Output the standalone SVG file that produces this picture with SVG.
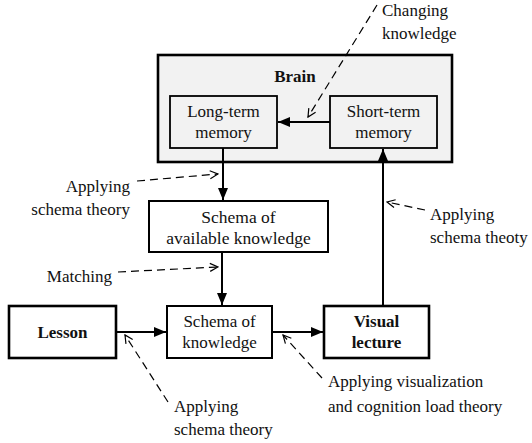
<svg xmlns="http://www.w3.org/2000/svg" width="532" height="443" viewBox="0 0 532 443">
  <defs>
    <marker id="solid" viewBox="0 0 12 10" refX="12" refY="5" markerWidth="12" markerHeight="10" markerUnits="userSpaceOnUse" orient="auto">
      <path d="M0,0 L12,5 L0,10 Z" fill="#000"/>
    </marker>
    <marker id="open" viewBox="0 0 10 10" refX="9" refY="5" markerWidth="10" markerHeight="10" markerUnits="userSpaceOnUse" orient="auto">
      <path d="M1,1 L9,5 L1,9" fill="none" stroke="#000" stroke-width="1.2"/>
    </marker>
  </defs>
  <style>
    .b { font-weight: bold; }
    .m { text-anchor: middle; }
    .e { text-anchor: end; }
    .inner { fill: #f2f2f2; stroke: #000; stroke-width: 1.8; }
    .thick { fill: #fff; stroke: #000; stroke-width: 2.6; }
    .thin { fill: #fff; stroke: #000; stroke-width: 2; }
    .flow { fill: none; stroke: #000; stroke-width: 2; marker-end: url(#solid); }
    .note { fill: none; stroke: #000; stroke-width: 1.2; stroke-dasharray: 8 5; marker-end: url(#open); }
  </style>

  <rect width="532" height="443" fill="#fff"/>

  <g id="brain">
    <rect x="158" y="55" width="294" height="107" fill="#f2f2f2" stroke="#000" stroke-width="2.6"/>
    <text class="b m" x="295" y="82" font-family="'Liberation Serif', serif" font-size="17" fill="#111">Brain</text>
  </g>

  <g id="long-term-memory">
    <rect class="inner" x="170" y="96" width="107" height="52"/>
    <text class="m" x="223.5" y="117" font-family="'Liberation Serif', serif" font-size="17" fill="#111">Long-term</text>
    <text class="m" x="223.5" y="138" font-family="'Liberation Serif', serif" font-size="17" fill="#111">memory</text>
  </g>

  <g id="short-term-memory">
    <rect class="inner" x="330" y="96" width="107" height="52"/>
    <text class="m" x="383.5" y="117" font-family="'Liberation Serif', serif" font-size="17" fill="#111">Short-term</text>
    <text class="m" x="383.5" y="138" font-family="'Liberation Serif', serif" font-size="17" fill="#111">memory</text>
  </g>

  <g id="schema-available">
    <rect class="thin" x="149" y="201" width="179" height="51"/>
    <text class="m" x="238.5" y="223" font-family="'Liberation Serif', serif" font-size="17.5" fill="#111">Schema of</text>
    <text class="m" x="238.5" y="244" font-family="'Liberation Serif', serif" font-size="17.5" fill="#111">available knowledge</text>
  </g>

  <g id="lesson">
    <rect class="thick" x="9" y="306" width="107" height="52"/>
    <text class="b m" x="62.5" y="338" font-family="'Liberation Serif', serif" font-size="17" fill="#111">Lesson</text>
  </g>

  <g id="schema-knowledge">
    <rect class="thin" x="167" y="306" width="105" height="52"/>
    <text class="m" x="219.5" y="327" font-family="'Liberation Serif', serif" font-size="17" fill="#111">Schema of</text>
    <text class="m" x="219.5" y="348" font-family="'Liberation Serif', serif" font-size="17" fill="#111">knowledge</text>
  </g>

  <g id="visual-lecture">
    <rect class="thick" x="324" y="306" width="105" height="52"/>
    <text class="b m" x="376.5" y="327" font-family="'Liberation Serif', serif" font-size="17" fill="#111">Visual</text>
    <text class="b m" x="376.5" y="348" font-family="'Liberation Serif', serif" font-size="17" fill="#111">lecture</text>
  </g>

  <g id="connectors">
    <line class="flow" x1="330" y1="122" x2="278" y2="122"/>
    <line class="flow" x1="223" y1="148" x2="223" y2="200"/>
    <line class="flow" x1="222" y1="252" x2="222" y2="305"/>
    <line class="flow" x1="116" y1="332" x2="166" y2="332"/>
    <line class="flow" x1="272" y1="332" x2="323" y2="332"/>
    <line class="flow" x1="383" y1="306" x2="383" y2="149"/>

    <line class="note" x1="377" y1="5" x2="308" y2="117"/>
    <line class="note" x1="137" y1="181" x2="218" y2="174"/>
    <line class="note" x1="118" y1="272" x2="218" y2="267"/>
    <line class="note" x1="425" y1="210" x2="387" y2="202"/>
    <line class="note" x1="168" y1="402" x2="125" y2="335"/>
    <line class="note" x1="322" y1="378" x2="283" y2="335"/>
  </g>

  <g id="labels">
    <text x="382" y="16" font-family="'Liberation Serif', serif" font-size="17" fill="#111">Changing</text>
    <text x="382" y="39" font-family="'Liberation Serif', serif" font-size="17" fill="#111">knowledge</text>
    <text class="e" x="130" y="192" font-family="'Liberation Serif', serif" font-size="17" fill="#111">Applying</text>
    <text class="e" x="130" y="215" font-family="'Liberation Serif', serif" font-size="17" fill="#111">schema theory</text>
    <text class="e" x="112" y="282" font-family="'Liberation Serif', serif" font-size="17" fill="#111">Matching</text>
    <text x="430" y="220" font-family="'Liberation Serif', serif" font-size="17" fill="#111">Applying</text>
    <text x="430" y="243" font-family="'Liberation Serif', serif" font-size="17" fill="#111">schema theoty</text>
    <text x="174" y="412" font-family="'Liberation Serif', serif" font-size="17" fill="#111">Applying</text>
    <text x="174" y="435" font-family="'Liberation Serif', serif" font-size="17" fill="#111">schema theory</text>
    <text x="328" y="387" font-family="'Liberation Serif', serif" font-size="17" fill="#111">Applying visualization</text>
    <text x="328" y="412" font-family="'Liberation Serif', serif" font-size="17" fill="#111">and cognition load theory</text>
  </g>
</svg>
